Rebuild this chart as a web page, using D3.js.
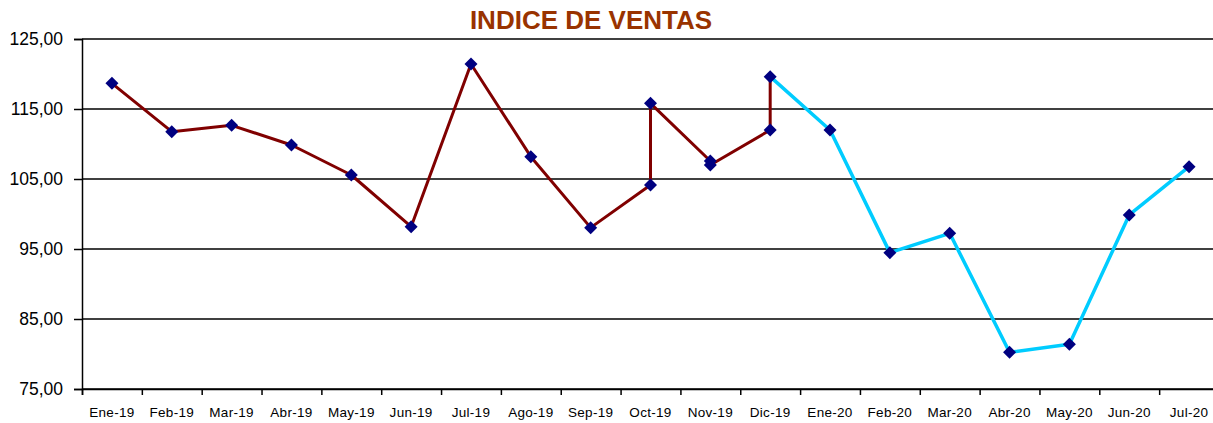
<!DOCTYPE html>
<html>
<head>
<meta charset="utf-8">
<script src="https://cdn.jsdelivr.net/npm/d3@7"></script>
<style>
	body { margin: 0; background: #fff; }
	text { font-family: 'Liberation Sans', Arial, sans-serif; }
</style>
</head>
<body>
<div id="chart"></div>
<script>
var months = ['Ene-19', 'Feb-19', 'Mar-19', 'Abr-19', 'May-19', 'Jun-19', 'Jul-19', 'Ago-19', 'Sep-19', 'Oct-19', 'Nov-19', 'Dic-19',
	'Ene-20', 'Feb-20', 'Mar-20', 'Abr-20', 'May-20', 'Jun-20', 'Jul-20'];

// 2019 values, then the revised values for the last months
var indice2019 = [118.67, 111.76, 112.67, 109.86, 105.57, 98.19, 121.43, 108.19, 98.05, 104.14, 107.57, 111.99];
var revisionMonths = ['Oct-19', 'Nov-19', 'Dic-19'];
var revisionValues = [115.81, 107.0, 119.62];
var indice2020 = [112.0, 94.48, 97.24, 80.24, 81.38, 99.86, 106.76];
var yTicks = [75, 85, 95, 105, 115, 125];

var width = 1213;
var height = 423;
var plotLeft = 82;
var plotRight = 1219;
var plotTop = 39;
var plotBottom = 389;

var svg = d3.select('#chart')
	.append('svg')
	.attr('width', width)
	.attr('height', height);

var x = d3.scaleLinear().domain([0, months.length]).range([plotLeft, plotRight]);
var y = d3.scaleLinear().domain([75, 125]).range([plotBottom, plotTop]);

var xCenter = function(m) {
	return x(months.indexOf(m) + 0.5);
};

// gridlines
svg.append('g').selectAll('line')
	.data(yTicks)
	.enter().append('line')
	.attr('x1', plotLeft)
	.attr('x2', plotRight)
	.attr('y1', function(d) { return y(d); })
	.attr('y2', function(d) { return y(d); })
	.attr('stroke', '#000')
	.attr('stroke-width', 1.5);

// y axis
var yAxis = svg.append('g')
	.attr('transform', 'translate(' + plotLeft + ',0)')
	.call(d3.axisLeft(y)
		.tickValues(yTicks)
		.tickSize(8)
		.tickPadding(11)
		.tickFormat(function(d) { return d.toFixed(2).replace('.', ','); }));
yAxis.selectAll('line').attr('stroke', '#000').attr('stroke-width', 1.5);
yAxis.select('.domain').attr('stroke', '#000').attr('stroke-width', 1.5);
yAxis.selectAll('text')
	.attr('fill', '#000')
	.style('font-size', '17.5px')
	.style('font-family', "'Liberation Sans', Arial, sans-serif");

// x axis ticks between categories
var xAxis = svg.append('g')
	.attr('transform', 'translate(0,' + plotBottom + ')')
	.call(d3.axisBottom(x)
		.tickValues(d3.range(0, months.length + 1))
		.tickSize(6)
		.tickFormat(''));
xAxis.selectAll('line').attr('stroke', '#000').attr('stroke-width', 1.5);
xAxis.select('.domain').attr('stroke', '#000').attr('stroke-width', 1.5);

// x labels at category centers
svg.append('g').selectAll('text')
	.data(months)
	.enter().append('text')
	.attr('x', function(d, i) { return x(i + 0.5); })
	.attr('y', 417)
	.attr('text-anchor', 'middle')
	.style('font-size', '13.5px')
	.style('letter-spacing', '0.3px')
	.text(function(d) { return d; });

// build the 2019 path: each month, then its revised value if there is one
var points2019 = [];
indice2019.forEach(function(v, i) {
	points2019.push({ m: months[i], v: v });
	var r = revisionMonths.indexOf(months[i]);
	if (r >= 0) {
		points2019.push({ m: months[i], v: revisionValues[r] });
	}
});

var last = points2019[points2019.length - 1];
var points2020 = [{ m: last.m, v: last.v }];
indice2020.forEach(function(v, i) {
	points2020.push({ m: months[12 + i], v: v });
});

var line = d3.line()
	.x(function(d) { return xCenter(d.m); })
	.y(function(d) { return y(d.v); });

svg.append('path')
	.datum(points2019)
	.attr('d', line)
	.attr('fill', 'none')
	.attr('stroke', '#800000')
	.attr('stroke-width', 3)
	.attr('stroke-linejoin', 'round');

svg.append('path')
	.datum(points2020)
	.attr('d', line)
	.attr('fill', 'none')
	.attr('stroke', '#00CCFF')
	.attr('stroke-width', 3.5)
	.attr('stroke-linejoin', 'round');

// diamond markers
var diamond = 'M0,-6.5L6.5,0L0,6.5L-6.5,0Z';
svg.append('g').selectAll('path')
	.data(points2019.concat(points2020.slice(1)))
	.enter().append('path')
	.attr('d', diamond)
	.attr('transform', function(d) { return 'translate(' + xCenter(d.m) + ',' + y(d.v) + ')'; })
	.attr('fill', '#000080');

// title
svg.append('text')
	.attr('x', 591)
	.attr('y', 29)
	.attr('text-anchor', 'middle')
	.attr('fill', '#993300')
	.style('font-size', '26px')
	.style('font-weight', 'bold')
	.text('INDICE DE VENTAS');
</script>
</body>
</html>
